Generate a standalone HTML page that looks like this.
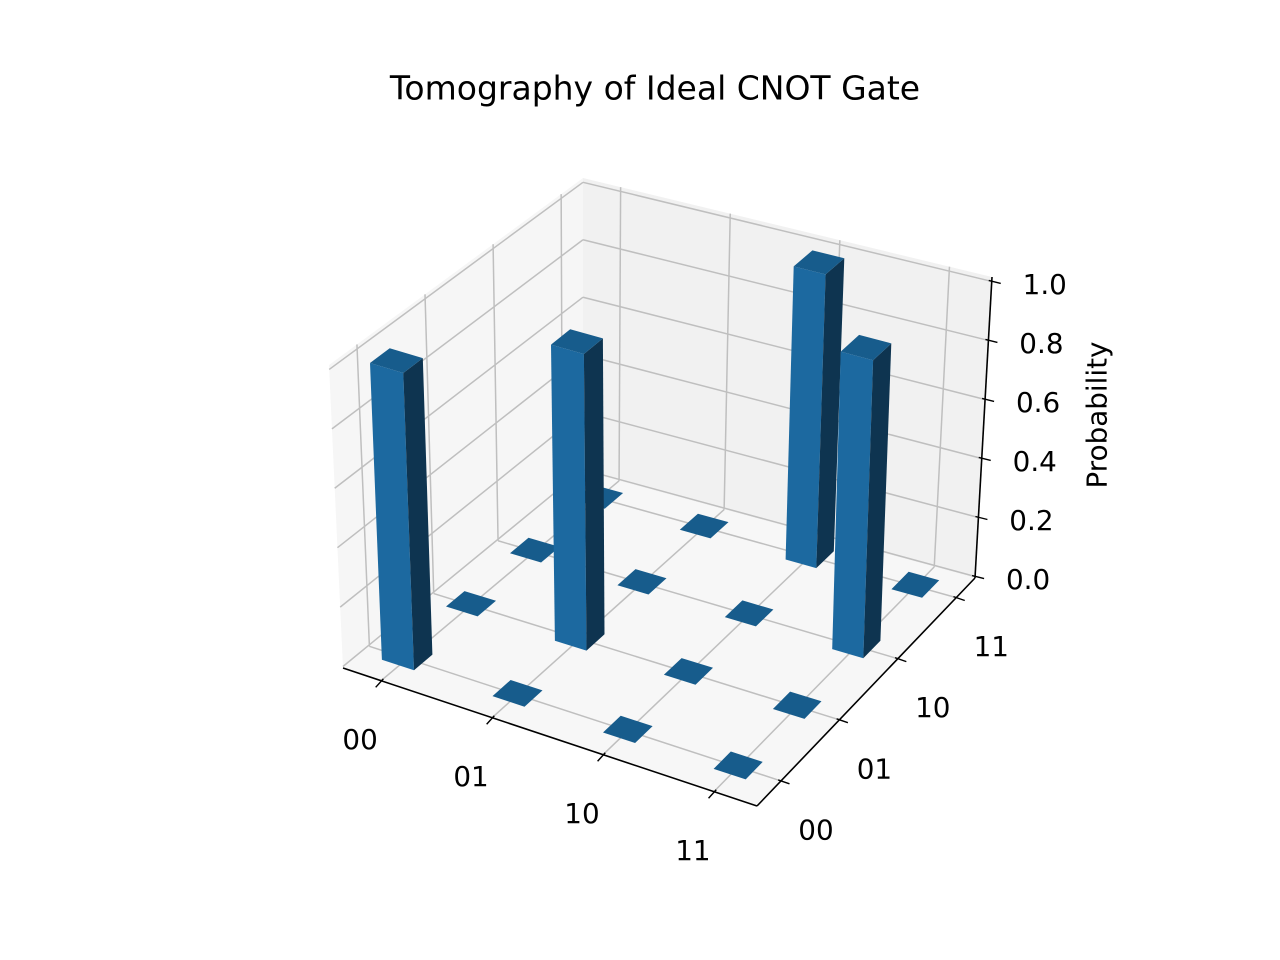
<!DOCTYPE html>
<html>
<head>
<meta charset="utf-8">
<style>
html,body{margin:0;padding:0;background:#fff;}
svg{display:block;}
text{font-family:"DejaVu Sans","Liberation Sans",sans-serif;fill:#000;}
</style>
</head>
<body>
<svg id="chart" width="1280" height="960" viewBox="0 0 1280 960">
<rect width="1280" height="960" fill="#fff"/>
<text x="655" y="88" font-size="33" text-anchor="middle" dominant-baseline="central">Tomography of Ideal CNOT Gate</text>
<g id="panes"></g>
<g id="grid"></g>
<g id="bars"></g>
<g id="axes"></g>
<text x="1097" y="415" font-size="27.8" text-anchor="middle" dominant-baseline="central" transform="rotate(-90 1097 415)">Probability</text>
</svg>
<script>
const xLabels = ["00","01","10","11"];
const yLabels = ["00","01","10","11"];
const zTicks = [0.0,0.2,0.4,0.6,0.8,1.0];
const zTickLabels = ["0.0","0.2","0.4","0.6","0.8","1.0"];
const row00 = [1,0,0,0];
const row01 = [0,1,0,0];
const row10 = [0,0,0,1];
const row11 = [0,0,1,0];
const probs = [row00,row01,row10,row11];

const NS = "http://www.w3.org/2000/svg";
const C = {
  b00:[343,668], b10:[757,806], b11:[975,578], b01:[583,471],
  t00:[329,365], t10:[759,496], t11:[992,277], t01:[583,178]
};
function bil(p00,p10,p01,p11,u,v){
  return [0,1].map(i=>p00[i]*(1-u)*(1-v)+p10[i]*u*(1-v)+p01[i]*(1-u)*v+p11[i]*u*v);
}
function proj(u,v,w){
  const b=bil(C.b00,C.b10,C.b01,C.b11,u,v), t=bil(C.t00,C.t10,C.t01,C.t11,u,v);
  return [b[0]*(1-w)+t[0]*w, b[1]*(1-w)+t[1]*w];
}
const xAxis = x => 0.092 + 0.268*x;
const yAxis = y => 0.11 + 0.268*y;
const zAxis = z => (z+0.005)/1.02;
const HALF = 0.145;

function el(tag, attrs, parent){
  const e=document.createElementNS(NS,tag);
  for(const k in attrs) e.setAttribute(k, attrs[k]);
  parent.appendChild(e); return e;
}
function pts(a){return a.map(p=>p[0].toFixed(1)+","+p[1].toFixed(1)).join(" ");}

const panes=document.getElementById("panes");
let p=el("polygon",{points:pts([proj(0,0,0),proj(0,1,0),proj(0,1,1),proj(0,0,1)]),fill:"#f6f6f6"},panes);


p=el("polygon",{points:pts([proj(0,1,0),proj(1,1,0),proj(1,1,1),proj(0,1,1)]),fill:"#f1f1f1"},panes);


p=el("polygon",{points:pts([proj(0,0,0),proj(1,0,0),proj(1,1,0),proj(0,1,0)]),fill:"#f7f7f7"},panes);



const grid=document.getElementById("grid");
function gl(a,b,name){
  const l=el("line",{x1:a[0],y1:a[1],x2:b[0],y2:b[1],stroke:"#bfbfbf","stroke-width":1.5},grid);
  
  
}
xLabels.forEach((_,i)=>{const u=xAxis(i);
  gl(proj(u,0,0),proj(u,1,0),'floor-gridline-x');
  gl(proj(u,1,0),proj(u,1,1),'back-gridline-x');});
yLabels.forEach((_,i)=>{const v=yAxis(i);
  gl(proj(0,v,0),proj(1,v,0),'floor-gridline-y');
  gl(proj(0,v,0),proj(0,v,1),'left-gridline-y');});
zTicks.forEach(z=>{const w=zAxis(z);
  gl(proj(0,0,w),proj(0,1,w),'left-gridline-z');
  gl(proj(0,1,w),proj(1,1,w),'back-gridline-z');});

const bars=document.getElementById("bars");
const list=[];
probs.forEach((row,i)=>row.forEach((val,j)=>list.push({i,j,val})));
list.sort((a,b)=>(a.i-a.j)-(b.i-b.j) || (a.i+a.j)-(b.i+b.j));
list.forEach(b=>{
  const u0=xAxis(b.i-HALF), u1=xAxis(b.i+HALF), v0=yAxis(b.j-HALF), v1=yAxis(b.j+HALF);
  const w0=zAxis(0), w1=zAxis(b.val);
  const g=el("g",{},bars);
  
  
  if(b.val>0){
    el("polygon",{points:pts([proj(u0,v0,w0),proj(u1,v0,w0),proj(u1,v0,w1),proj(u0,v0,w1)]),fill:"#1c69a0"},g);
    el("polygon",{points:pts([proj(u1,v0,w0),proj(u1,v1,w0),proj(u1,v1,w1),proj(u1,v0,w1)]),fill:"#0e3450"},g);
  }
  el("polygon",{points:pts([proj(u0,v0,w1),proj(u1,v0,w1),proj(u1,v1,w1),proj(u0,v1,w1)]),fill:"#175c8c"},g);
});

const axes=document.getElementById("axes");
function ln(a,b,name,w){
  const l=el("line",{x1:a[0],y1:a[1],x2:b[0],y2:b[1],stroke:"#000","stroke-width":w||1.6},axes);
  
  
}
function tx(x,y,s,name){
  const t=el("text",{x:x,y:y,"font-size":27.8,"text-anchor":"middle","dominant-baseline":"central"},axes);
  t.textContent=s;
  
  
}
ln(proj(0,0,0),proj(1,0,0),'x-axis-line');
ln(proj(1,0,0),proj(1,1,0),'y-axis-line');
ln(proj(1,1,0),proj(1,1,1),'z-axis-line');
xLabels.forEach((s,i)=>{const q=proj(xAxis(i),0,0);
  ln([q[0]+2.3,q[1]-1.9],[q[0]-5.4,q[1]+6.6],'x-tick',1.4);
  tx(q[0]-21,q[1]+59,s,'x-tick-label');});
yLabels.forEach((s,j)=>{const q=proj(1,yAxis(j),0);
  ln([q[0]-2.8,q[1]-1],[q[0]+8.5,q[1]+2.9],'y-tick',1.4);
  tx(q[0]+35,q[1]+49,s,'y-tick-label');});
zTicks.forEach((z,k)=>{const q=proj(1,1,zAxis(z));
  ln([q[0]-3,q[1]-1],[q[0]+9,q[1]+2],'z-tick',1.4);
  tx(q[0]+53,q[1]+3,zTickLabels[k],'z-tick-label');});
</script>
</body>
</html>
